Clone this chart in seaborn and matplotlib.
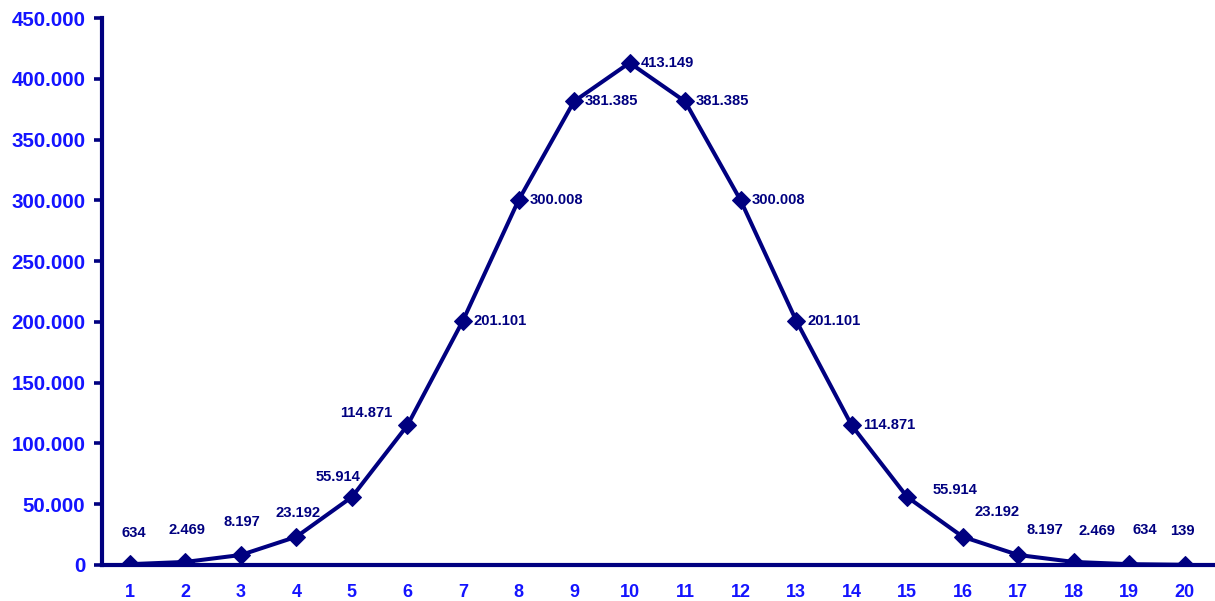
import matplotlib
matplotlib.use("Agg")
import matplotlib.pyplot as plt
import seaborn as sns
import pandas as pd
from matplotlib.ticker import FuncFormatter, MultipleLocator, FixedLocator

# values
positions = list(range(1, 21))
counts = [634, 2469, 8197, 23192, 55914, 114871, 201101, 300008, 381385, 413149,
          381385, 300008, 201101, 114871, 55914, 23192, 8197, 2469, 634, 139]

NAVY = "#000080"
BLUE = "#1414ff"


def de_fmt(v, pos=None):
    # german thousands separator
    return f"{int(round(v)):,}".replace(",", ".")


df = pd.DataFrame({"pos": positions, "count": counts})

sns.set_style("white")
plt.rcParams["font.family"] = ["Liberation Sans", "DejaVu Sans"]
plt.rcParams["font.weight"] = "bold"

fig = plt.figure(figsize=(12.15, 6.01), dpi=100)
ax = fig.add_axes([0.084, 0.06, 0.914, 0.91])

sns.lineplot(data=df, x="pos", y="count", ax=ax, color=NAVY, linewidth=2.9,
             marker="D", markersize=9, markeredgecolor=NAVY, markerfacecolor=NAVY)

# label offsets in pixels, picked by eye from the reference
offsets = [(4, 31), (2, 32), (1, 33), (2, 24), (-14, 20), (-41, 12),
           (11, 0), (11, 0), (11, 0), (11, 0), (11, 0), (11, 0), (11, 0), (11, 0),
           (48, 7), (34, 25), (27, 25), (23, 31), (16, 34), (-2, 34)]
for i, (x, y) in enumerate(zip(positions, counts)):
    dx, dy = offsets[i]
    ha = "left" if 6 <= i <= 13 else "center"
    ax.annotate(de_fmt(y), (x, y), xytext=(dx, dy), textcoords="offset pixels",
                ha=ha, va="center", fontsize=10.6, fontweight="bold", color=NAVY)

ax.set_xlim(0.5, 20.5)
ax.set_ylim(0, 450000)
ax.yaxis.set_major_locator(MultipleLocator(50000))
ax.yaxis.set_major_formatter(FuncFormatter(de_fmt))
ax.set_xticks(positions)
ax.set_xticklabels([str(p) for p in positions])
ax.xaxis.set_minor_locator(FixedLocator([p + 0.5 for p in range(0, 21)]))

ax.tick_params(axis="x", which="major", length=0, pad=14, labelsize=13, labelcolor=BLUE)
ax.tick_params(axis="x", which="minor", length=6, width=2.6, color=NAVY, direction="out")
ax.tick_params(axis="y", length=6, width=2.6, color=NAVY, pad=6, labelsize=14.8,
               labelcolor=BLUE, direction="out", left=True)
for lab in ax.get_xticklabels() + ax.get_yticklabels():
    lab.set_fontweight("bold")

sns.despine(ax=ax)
for side in ["left", "bottom"]:
    ax.spines[side].set_color(NAVY)
    ax.spines[side].set_linewidth(3)

ax.set_xlabel("")
ax.set_ylabel("")
ax.grid(False)

fig.savefig("out.png", dpi=100)
